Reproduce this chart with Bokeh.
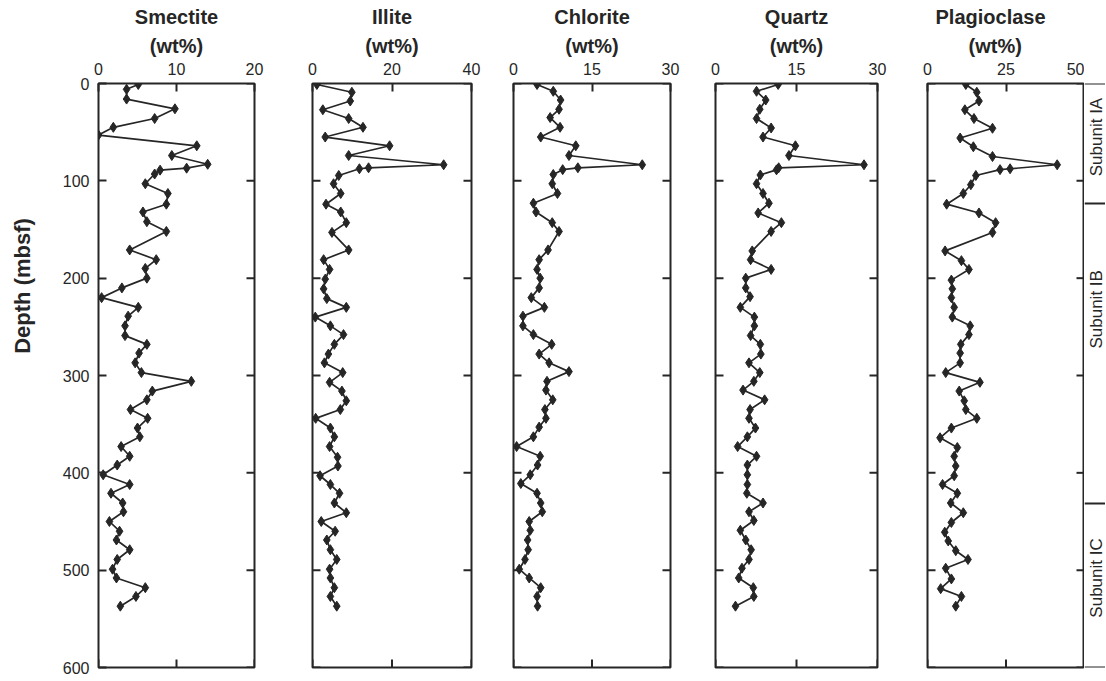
from bokeh.plotting import figure
from bokeh.layouts import row
from bokeh.models import Range1d, FixedTicker, Title
from bokeh.embed import file_html
from bokeh.resources import INLINE
from bokeh.core.properties import value
import math

# ---------------- data ----------------
depth_smectite = [1, 6, 16, 26, 36, 45, 53, 64, 74, 83, 87, 89, 93, 103, 113, 124, 132, 142, 152, 171,
                  181, 190, 200, 210, 220, 230, 239, 249, 259, 268, 277, 287, 297, 306, 316, 325, 335, 344, 354, 363,
                  373, 383, 392, 402, 412, 421, 431, 440, 450, 460, 469, 479, 489, 499, 508, 518, 527, 537]
smectite = [5.1, 3.6, 3.6, 9.8, 7.2, 1.9, 0.0, 12.6, 9.4, 14.0, 11.3, 7.9, 7.2, 6.0, 8.9, 8.7, 5.7, 6.2, 8.7, 4.0,
            7.4, 6.0, 6.2, 3.0, 0.4, 5.1, 3.8, 3.4, 3.4, 6.2, 5.2, 4.7, 5.5, 11.9, 6.9, 6.2, 4.1, 6.3, 5.0, 5.3,
            2.9, 4.0, 2.4, 0.6, 4.0, 1.6, 3.1, 3.2, 1.4, 2.7, 2.3, 4.0, 2.4, 1.8, 2.3, 6.0, 4.8, 2.8]

depth_illite = [1, 9, 18, 27, 36, 45, 55, 64, 74, 83.5, 86.6, 87.6, 94.5, 103, 113, 124, 132, 143, 153, 171,
                181, 191, 201, 211, 221, 230, 240, 249, 258, 268, 278, 287, 297, 307, 316, 326, 335, 344, 354, 363,
                373, 384, 393, 403, 412, 421, 431, 441, 450, 460, 469, 479, 489, 499, 508, 518, 527, 537]
illite = [1.1, 9.9, 9.5, 2.6, 9.1, 12.7, 3.2, 19.4, 9.1, 33.0, 14.1, 11.8, 6.6, 5.3, 7.1, 3.4, 7.1, 8.5, 4.9, 9.1,
          2.8, 4.3, 3.2, 2.8, 3.6, 8.5, 0.7, 4.5, 7.8, 5.5, 4.0, 3.0, 7.6, 4.3, 7.4, 8.5, 7.0, 0.8, 4.5, 5.5,
          4.3, 6.3, 6.4, 1.9, 4.5, 6.8, 5.5, 8.5, 2.2, 5.7, 3.6, 4.5, 6.1, 4.3, 4.5, 5.5, 4.5, 6.1]

depth_chlorite = [1, 8, 17, 26.5, 35, 45, 55, 64, 74, 83.5, 86.6, 88.5, 93.5, 103, 113, 123, 132, 143, 152, 171,
                  181, 191, 200, 210, 220, 230, 239, 249, 258, 268, 278, 287, 296, 306, 315, 325, 335, 344, 353, 363,
                  373, 383, 392, 402, 411, 421, 431, 440, 450, 459, 469, 479, 489, 499, 508, 518, 527, 537]
chlorite = [4.5, 7.6, 9.0, 8.7, 7.0, 8.9, 5.2, 11.9, 10.6, 24.6, 12.3, 9.4, 7.6, 7.4, 8.4, 3.8, 4.3, 7.4, 8.7, 6.6,
            4.9, 4.5, 5.1, 4.9, 3.4, 5.9, 1.8, 1.8, 3.8, 7.3, 4.9, 6.8, 10.6, 6.4, 6.2, 7.5, 6.0, 6.2, 4.9, 3.8,
            0.6, 5.1, 4.6, 3.2, 1.4, 4.5, 5.2, 5.5, 3.0, 3.2, 2.7, 2.8, 2.2, 1.1, 3.0, 5.2, 4.5, 4.6]

depth_quartz = [1, 8, 17, 26.5, 36, 45.7, 55, 64, 74, 83.5, 86.6, 88.7, 94, 103, 113, 123, 133, 143, 152, 172,
                181, 191, 200, 210, 219, 230, 240, 249, 259, 268, 278, 287, 297, 306, 315, 325, 335, 344, 354, 363,
                373, 383, 392, 402, 412, 421, 431, 440, 449, 459, 469, 479, 489, 498, 508, 518, 527, 537]
quartz = [11.6, 7.6, 9.3, 8.2, 7.6, 10.3, 8.8, 14.8, 13.6, 27.5, 11.7, 11.3, 8.3, 7.6, 8.8, 9.9, 7.9, 12.2, 10.3, 6.8,
          6.5, 10.3, 5.6, 5.6, 6.4, 4.6, 7.2, 7.2, 6.5, 8.3, 8.4, 6.2, 8.2, 7.1, 5.1, 9.1, 6.4, 6.2, 7.4, 5.9,
          4.1, 7.6, 5.9, 5.9, 5.9, 5.8, 8.8, 6.2, 7.1, 4.6, 5.6, 6.6, 6.2, 4.9, 4.3, 7.0, 7.1, 3.7]

depth_plagioclase = [1, 9, 18, 27, 36, 46, 56, 65, 75, 83.5, 87.6, 88.5, 94.5, 104, 113, 124, 133, 143, 153, 172,
                     182, 191, 202, 211, 220, 230, 240, 249, 258, 268, 277, 287, 297, 307, 316, 326, 335, 344, 354, 364,
                     374, 383, 393, 403, 412, 421, 431, 441, 451, 461, 470, 480, 489, 498, 509, 519, 527, 537]
plagioclase = [12.2, 15.7, 16.4, 11.9, 14.8, 20.7, 10.4, 14.6, 20.7, 41.3, 26.3, 23.1, 15.4, 13.8, 11.4, 6.1, 16.4, 21.7, 20.7, 5.6,
               10.8, 13.2, 7.6, 7.9, 7.6, 8.5, 7.9, 13.6, 13.2, 10.6, 10.4, 10.4, 5.8, 16.7, 10.1, 11.7, 12.2, 15.7, 7.6, 4.0,
               9.5, 8.5, 9.0, 8.5, 4.8, 9.5, 7.4, 11.4, 7.6, 5.5, 6.6, 9.0, 12.9, 5.8, 7.6, 4.2, 10.8, 9.0]

mineral_names = ["Smectite", "Illite", "Chlorite", "Quartz", "Plagioclase"]
unit_label = "(wt%)"
depth_label = "Depth (mbsf)"
x_max = [20, 40, 30, 30, 50]
x_ticks = [[0, 10, 20], [0, 20, 40], [0, 15, 30], [0, 15, 30], [0, 25, 50]]
depth_ticks = [0, 100, 200, 300, 400, 500, 600]
depth_max = 600

subunit_names = ["Subunit IA", "Subunit IB", "Subunit IC"]
subunit_bounds = [0, 123, 432, 600]

# ---------------- style / layout ----------------
FONT = "Liberation Sans"
INK = "#262626"
FRAME_H = 584
TOP = 83
BOTTOM = 12
LABEL_W = 40                     # strip holding the vertical depth label
frame_w = [156, 159, 157, 162, 157]
border_l = [58, 29, 21, 23, 25]
border_r = [29, 21, 22, 25, 0]
# title placement: None = centred over the frame, else (name offset, unit offset) from frame left
title_offsets = [None, None, None, None, (8, 41)]
subunit_label_depths = [55, 232, 508]
depth_label_pos = (0.55, 208)
TICK = 16  # full dash length; only the inner half is visible inside the frame

series = [(depth_smectite, smectite), (depth_illite, illite), (depth_chlorite, chlorite),
          (depth_quartz, quartz), (depth_plagioclase, plagioclase)]


def style_axis(ax, ticks):
    ax.ticker = FixedTicker(ticks=ticks)
    ax.major_tick_in = 8
    ax.major_tick_out = 0
    ax.minor_tick_in = 0
    ax.minor_tick_out = 0
    ax.major_tick_line_color = INK
    ax.major_tick_line_width = 2
    ax.axis_line_color = None
    ax.major_label_text_font = FONT
    ax.major_label_text_font_size = "16px"
    ax.major_label_text_color = INK
    ax.major_label_standoff = 9


def make_title(text, standoff, offset):
    kw = dict(text=text, text_font=FONT, text_font_size="20px", text_font_style="bold",
              text_color=INK, standoff=standoff)
    if offset is None:
        return Title(align="center", **kw)
    return Title(align="left", offset=offset, **kw)


def blank_strip(width):
    s = figure(frame_width=width, frame_height=FRAME_H, x_range=Range1d(0, 1),
               y_range=Range1d(depth_max, 0), x_axis_type=None, y_axis_type=None, title=None,
               output_backend="svg", toolbar_location=None,
               min_border_left=0, min_border_right=0, min_border_top=TOP, min_border_bottom=BOTTOM)
    s.xgrid.visible = False
    s.ygrid.visible = False
    s.outline_line_color = None
    return s


figs = []

# vertical depth label strip
lab = blank_strip(LABEL_W)
lab.text(x=[depth_label_pos[0]], y=[depth_label_pos[1]], text=[depth_label],
         angle=math.pi / 2, text_align="center", text_baseline="middle",
         text_font=value(FONT), text_font_size="22px", text_font_style="bold", text_color=INK)
figs.append(lab)

for i, name in enumerate(mineral_names):
    d, v = series[i]
    xmax = x_max[i]
    p = figure(frame_width=frame_w[i], frame_height=FRAME_H,
               x_range=Range1d(0, xmax), y_range=Range1d(depth_max, 0),
               x_axis_location="above", y_axis_location=("left" if i == 0 else None),
               title=None, output_backend="svg", toolbar_location=None,
               min_border_left=border_l[i], min_border_right=border_r[i],
               min_border_top=TOP, min_border_bottom=BOTTOM)
    p.xgrid.visible = False
    p.ygrid.visible = False
    p.outline_line_color = INK
    p.outline_line_width = 2
    p.outline_line_alpha = 1
    p.background_fill_color = "white"
    p.border_fill_color = "white"

    style_axis(p.xaxis[0], x_ticks[i])
    if i == 0:
        style_axis(p.yaxis[0], depth_ticks)
    else:
        # inward ticks on the left frame edge
        p.scatter([0] * len(depth_ticks), depth_ticks, marker="dash", size=TICK,
                  line_color=INK, line_width=2)
    # inward ticks on the right frame edge
    p.scatter([xmax] * len(depth_ticks), depth_ticks, marker="dash", size=TICK,
              line_color=INK, line_width=2)
    # inward ticks on the bottom frame edge
    p.scatter(x_ticks[i], [depth_max] * len(x_ticks[i]), marker="dash", angle=math.pi / 2,
              size=TICK, line_color=INK, line_width=2)

    p.line(v, d, line_color=INK, line_width=1.7)
    p.scatter(v, d, marker="diamond", size=10, fill_color=INK, line_color=INK)

    offs = title_offsets[i]
    p.add_layout(make_title(unit_label, 6, None if offs is None else offs[1]), "above")
    p.add_layout(make_title(name, 4, None if offs is None else offs[0]), "above")
    figs.append(p)

# subunit column
q = blank_strip(21)
q.hspan(y=subunit_bounds, line_color=INK, line_width=2)
q.text(x=[0.55] * len(subunit_names), y=subunit_label_depths, text=subunit_names,
       angle=math.pi / 2, text_align="center", text_baseline="middle",
       text_font=value(FONT), text_font_size="17px", text_color=INK)
figs.append(q)

layout = row(*figs, spacing=0)
open("out.html", "w").write(file_html(layout, INLINE))
